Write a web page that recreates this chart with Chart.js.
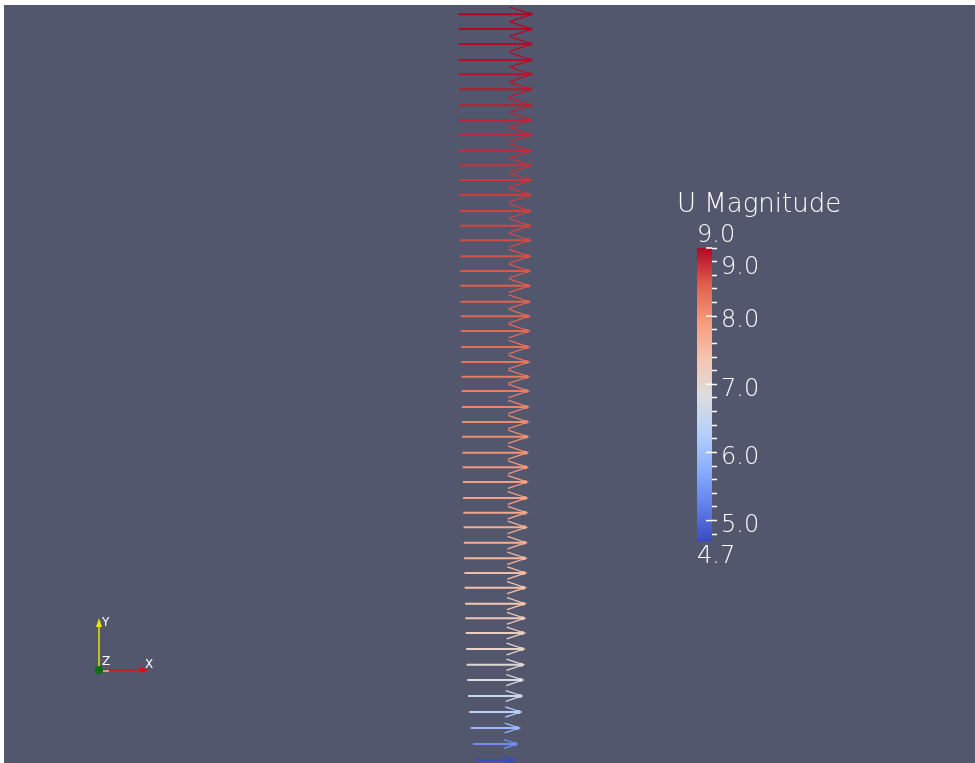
<!DOCTYPE html>
<html>
<head>
<meta charset="utf-8">
<script src="https://cdn.jsdelivr.net/npm/chart.js@4/dist/chart.umd.min.js"></script>
<style>
  html, body { margin: 0; padding: 0; background: #ffffff; }
  #view { position: absolute; left: 4px; top: 5px; width: 971px; height: 758px; background: #52576e; }
  #legend { position: absolute; left: 677px; top: 180px; width: 190px; height: 400px; }
</style>
</head>
<body>
<div id="view"><canvas id="glyphChart"></canvas></div>
<div id="legend"><canvas id="colorBar"></canvas></div>
<script>
// height of each glyph (m) and velocity magnitude there (m/s)
const heights = [
  0.4991, 0.4893, 0.4793, 0.4687, 0.4591, 0.4491, 0.4385, 0.4287, 0.4189, 0.4082,
  0.3985, 0.3887, 0.3787, 0.3680, 0.3582, 0.3485, 0.3378, 0.3280, 0.3182, 0.3075,
  0.2978, 0.2880, 0.2773, 0.2673, 0.2575, 0.2480, 0.2373, 0.2273, 0.2175, 0.2069,
  0.1971, 0.1873, 0.1767, 0.1669, 0.1571, 0.1469, 0.1365, 0.1267, 0.1169, 0.1062,
  0.0965, 0.0867, 0.0760, 0.0655, 0.0553, 0.0447, 0.0340, 0.0233, 0.0127, 0.0020
];
const uMagnitude = [
  9.00, 8.98, 8.96, 8.94, 8.92, 8.89, 8.86, 8.83, 8.80, 8.77,
  8.74, 8.71, 8.68, 8.65, 8.62, 8.58, 8.55, 8.51, 8.47, 8.43,
  8.39, 8.35, 8.31, 8.27, 8.22, 8.18, 8.13, 8.08, 8.03, 7.98,
  7.93, 7.88, 7.82, 7.76, 7.70, 7.64, 7.57, 7.50, 7.43, 7.35,
  7.27, 7.18, 7.07, 6.95, 6.80, 6.60, 6.32, 5.95, 5.40, 4.70
];

// colour legend
const rangeMin = 4.7;
const rangeMax = 9.0;
const legendTicks = [4.8, 5.0, 5.2, 5.4, 5.6, 5.8, 6.0, 6.2, 6.4, 6.6, 6.8, 7.0,
  7.2, 7.4, 7.6, 7.8, 8.0, 8.2, 8.4, 8.6, 8.8, 9.0];
const legendLabels = [5.0, 6.0, 7.0, 8.0, 9.0];

const glyphScale = 0.01;
const FONT = '"DejaVu Sans", sans-serif';

// cool to warm colour map
const coolWarm = [
  [0.0, 59, 76, 192],
  [0.125, 98, 130, 234],
  [0.25, 141, 176, 254],
  [0.375, 184, 208, 249],
  [0.5, 221, 221, 221],
  [0.625, 245, 196, 173],
  [0.75, 244, 154, 123],
  [0.875, 222, 96, 77],
  [1.0, 180, 4, 38]
];

function colorFor(u) {
  let t = (u - rangeMin) / (rangeMax - rangeMin);
  t = Math.max(0, Math.min(1, t));
  for (let i = 1; i < coolWarm.length; i++) {
    const a = coolWarm[i - 1], b = coolWarm[i];
    if (t <= b[0]) {
      const f = (t - a[0]) / (b[0] - a[0]);
      const c = [1, 2, 3].map(k => Math.round(a[k] + (b[k] - a[k]) * f));
      return `rgb(${c[0]}, ${c[1]}, ${c[2]})`;
    }
  }
  return 'rgb(180, 4, 38)';
}

// one dataset per glyph shaft, centred on x = 0
const glyphDatasets = heights.map((h, i) => ({
  data: [
    { x: -uMagnitude[i] * glyphScale / 2, y: h },
    { x: uMagnitude[i] * glyphScale / 2, y: h }
  ],
  borderColor: colorFor(uMagnitude[i]),
  borderWidth: 2,
  pointRadius: 0,
  showLine: true
}));

const arrowHeads = {
  id: 'arrowHeads',
  afterDatasetsDraw(chart) {
    const { ctx, scales } = chart;
    ctx.save();
    chart.data.datasets.forEach(ds => {
      const xl = scales.x.getPixelForValue(ds.data[0].x);
      const xt = scales.x.getPixelForValue(ds.data[1].x);
      const y = scales.y.getPixelForValue(ds.data[1].y);
      const len = xt - xl;
      ctx.strokeStyle = ds.borderColor;
      ctx.fillStyle = ds.borderColor;
      ctx.lineWidth = 1.3;
      ctx.beginPath();
      ctx.moveTo(xt - 0.3 * len, y - 0.1 * len);
      ctx.lineTo(xt, y);
      ctx.lineTo(xt - 0.3 * len, y + 0.1 * len);
      ctx.stroke();
      ctx.beginPath();
      ctx.arc(xt - 2, y, 2, 0, Math.PI * 2);
      ctx.fill();
    });
    ctx.restore();
  }
};

const axesTriad = {
  id: 'axesTriad',
  afterDraw(chart) {
    const { ctx, chartArea } = chart;
    const ox = chartArea.left + 95, oy = chartArea.bottom - 93;
    ctx.save();
    // Y axis
    ctx.strokeStyle = '#e6e600';
    ctx.fillStyle = '#e6e600';
    ctx.lineWidth = 1.5;
    ctx.beginPath(); ctx.moveTo(ox, oy); ctx.lineTo(ox, oy - 45); ctx.stroke();
    ctx.beginPath(); ctx.moveTo(ox, oy - 52); ctx.lineTo(ox - 3, oy - 43); ctx.lineTo(ox + 3, oy - 43); ctx.closePath(); ctx.fill();
    // X axis
    ctx.strokeStyle = '#e01010';
    ctx.fillStyle = '#e01010';
    ctx.beginPath(); ctx.moveTo(ox, oy); ctx.lineTo(ox + 43, oy); ctx.stroke();
    ctx.beginPath(); ctx.moveTo(ox + 50, oy); ctx.lineTo(ox + 41, oy - 3); ctx.lineTo(ox + 41, oy + 3); ctx.closePath(); ctx.fill();
    // Z axis seen end on
    ctx.strokeStyle = '#ffffff';
    ctx.lineWidth = 1;
    ctx.beginPath(); ctx.moveTo(ox + 4, oy + 1); ctx.lineTo(ox + 10, oy + 1); ctx.stroke();
    ctx.fillStyle = '#0a6e12';
    ctx.beginPath(); ctx.arc(ox, oy, 4, 0, Math.PI * 2); ctx.fill();
    // labels
    ctx.fillStyle = '#ffffff';
    ctx.font = '12px ' + FONT;
    ctx.textBaseline = 'middle';
    ctx.fillText('Y', ox + 3, oy - 47);
    ctx.fillText('Z', ox + 3, oy - 8);
    ctx.fillText('X', ox + 46, oy - 5);
    ctx.restore();
  }
};

new Chart(document.getElementById('glyphChart'), {
  type: 'scatter',
  data: { datasets: glyphDatasets },
  options: {
    responsive: true,
    maintainAspectRatio: false,
    animation: false,
    layout: { padding: 0 },
    plugins: { legend: { display: false }, tooltip: { enabled: false } },
    scales: {
      x: { type: 'linear', display: false, min: -0.6017, max: 0.5882 },
      y: { type: 'linear', display: false, min: 0, max: 0.50533 }
    }
  },
  plugins: [arrowHeads, axesTriad]
});

const legendText = {
  id: 'legendText',
  afterDraw(chart) {
    const { ctx, chartArea, scales } = chart;
    ctx.save();
    // major ticks reach into the bar
    ctx.strokeStyle = '#ffffff';
    ctx.lineWidth = 1.5;
    legendLabels.forEach(v => {
      const y = scales.y.getPixelForValue(v);
      ctx.beginPath(); ctx.moveTo(chartArea.right - 6, y); ctx.lineTo(chartArea.right, y); ctx.stroke();
    });
    ctx.fillStyle = '#ffffff';
    ctx.textBaseline = 'middle';
    ctx.font = '200 26px ' + FONT;
    ctx.fillText('U Magnitude', chartArea.left - 20, chartArea.top - 43);
    ctx.font = '200 24px ' + FONT;
    ctx.fillText(rangeMax.toFixed(1), chartArea.left, chartArea.top - 12);
    ctx.fillText(rangeMin.toFixed(1), chartArea.left, chartArea.bottom + 16);
    ctx.restore();
  }
};

new Chart(document.getElementById('colorBar'), {
  type: 'bar',
  data: {
    labels: ['U Magnitude'],
    datasets: [{
      data: [[rangeMin, rangeMax]],
      backgroundColor: (c) => {
        const { ctx, chartArea, scales } = c.chart;
        if (!chartArea) return null;
        const g = ctx.createLinearGradient(0, scales.y.getPixelForValue(rangeMin), 0, scales.y.getPixelForValue(rangeMax));
        coolWarm.forEach(([t, r, gr, b]) => g.addColorStop(t, `rgb(${r}, ${gr}, ${b})`));
        return g;
      },
      borderWidth: 0,
      barPercentage: 1,
      categoryPercentage: 1
    }]
  },
  options: {
    responsive: true,
    maintainAspectRatio: false,
    animation: false,
    layout: { padding: { left: 20, right: 95, top: 68, bottom: 39 } },
    plugins: { legend: { display: false }, tooltip: { enabled: false } },
    scales: {
      x: { display: false },
      y: {
        position: 'right',
        min: rangeMin,
        max: rangeMax,
        afterBuildTicks: (axis) => { axis.ticks = legendTicks.map(v => ({ value: v })); },
        afterFit: (axis) => { axis.width = 60; },
        border: { display: false },
        grid: { drawOnChartArea: false, tickLength: 5, tickWidth: 1.5, tickColor: '#ffffff' },
        ticks: {
          autoSkip: false,
          color: '#ffffff',
          padding: 4,
          labelOffset: 5,
          font: { family: FONT, size: 24, weight: 200 },
          callback: (value) => {
            if (!legendLabels.includes(value)) return '';
            return value === rangeMax ? ['', value.toFixed(1)] : value.toFixed(1);
          }
        }
      }
    }
  },
  plugins: [legendText]
});
</script>
</body>
</html>
